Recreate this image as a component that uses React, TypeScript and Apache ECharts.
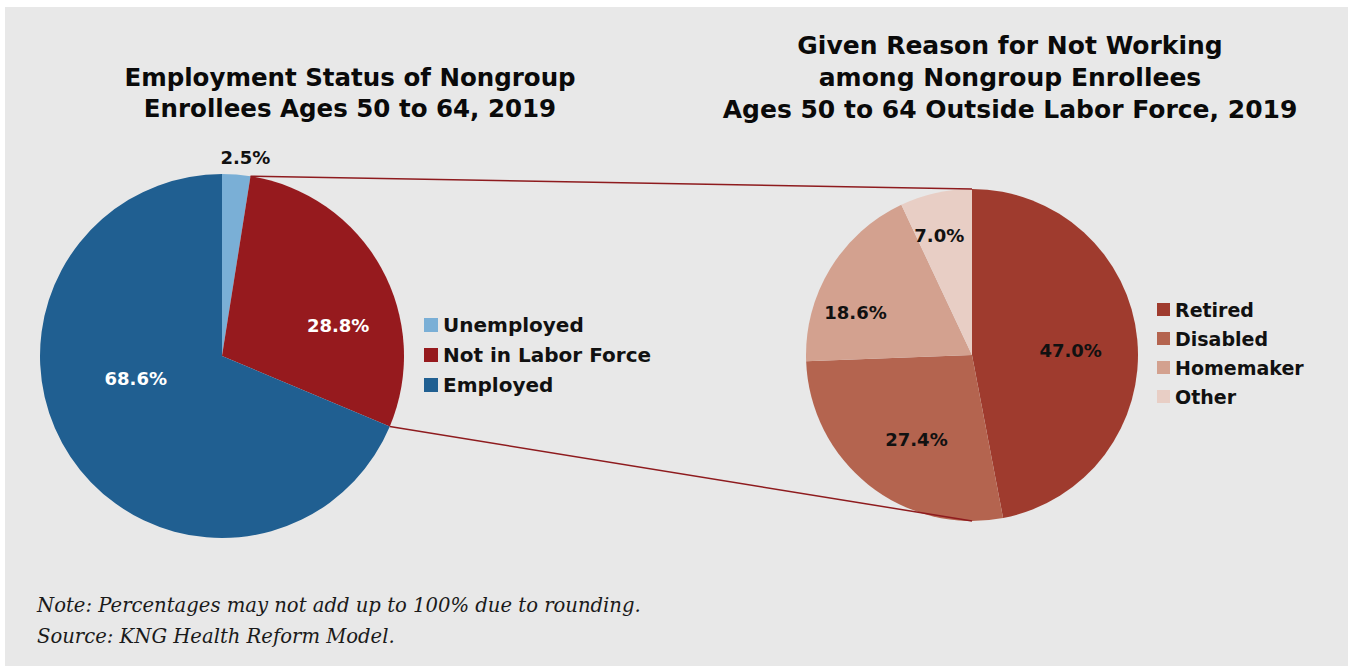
import React, { useEffect, useRef } from "react";
import * as echarts from "echarts";

const statusNames = ["Unemployed", "Not in Labor Force", "Employed"];
const statusValues = [2.5, 28.8, 68.6];
const statusColors = ["#7aafd6", "#961a1e", "#205f91"];

const reasonNames = ["Retired", "Disabled", "Homemaker", "Other"];
const reasonValues = [47.0, 27.4, 18.6, 7.0];
const reasonColors = ["#9f3b2e", "#b4644f", "#d3a18f", "#e8cec5"];

const leftTitle = "Employment Status of Nongroup\nEnrollees Ages 50 to 64, 2019";
const rightTitle =
  "Given Reason for Not Working\namong Nongroup Enrollees\nAges 50 to 64 Outside Labor Force, 2019";
const noteText =
  "Note: Percentages may not add up to 100% due to rounding.\nSource: KNG Health Reform Model.";

// layout
const L = { cx: 222, cy: 356, r: 182 };
const R = { cx: 972, cy: 355, r: 166 };
const leftLabelOffsets = [
  [16, -105],
  [34, 15],
  [-8, -30],
];
const rightLabelOffsets = [
  [13, 4],
  [-2, 17],
  [-43, 2],
  [-14, -36],
];

const SANS = '"DejaVu Sans", sans-serif';

export default function App() {
  const ref = useRef<HTMLDivElement>(null);
  useEffect(() => {
    document.body.style.margin = "0";
    const chart = echarts.init(ref.current!, undefined, { renderer: "svg" });

    const total = statusValues.reduce((a, b) => a + b, 0);
    const f1 = statusValues[0] / total;
    const f2 = (statusValues[0] + statusValues[1]) / total;
    const pt = (f: number) => [
      L.cx + L.r * Math.sin(2 * Math.PI * f),
      L.cy - L.r * Math.cos(2 * Math.PI * f),
    ];
    const p1 = pt(f1);
    const p2 = pt(f2);

    const fmt = (p: any) => Number(p.value).toFixed(1) + "%";

    chart.setOption({
      animation: false,
      backgroundColor: "#ffffff",
      graphic: [
        {
          type: "rect",
          z: -10,
          shape: { x: 5, y: 7, width: 1343, height: 670 },
          style: { fill: "#e8e8e8" },
          silent: true,
        },
        {
          type: "line",
          z: 10,
          shape: { x1: p1[0], y1: p1[1], x2: R.cx, y2: R.cy - R.r },
          style: { stroke: "#8e1b1e", lineWidth: 1.5 },
        },
        {
          type: "line",
          z: 10,
          shape: { x1: p2[0], y1: p2[1], x2: R.cx, y2: R.cy + R.r },
          style: { stroke: "#8e1b1e", lineWidth: 1.5 },
        },
        {
          type: "text",
          x: 350,
          y: 92.5,
          style: {
            text: leftTitle,
            font: "bold 24.5px " + SANS,
            fill: "#0a0a0a",
            textAlign: "center",
            textVerticalAlign: "middle",
            lineHeight: 31,
          },
        },
        {
          type: "text",
          x: 1010,
          y: 77,
          style: {
            text: rightTitle,
            font: "bold 25px " + SANS,
            fill: "#0a0a0a",
            textAlign: "center",
            textVerticalAlign: "middle",
            lineHeight: 32,
          },
        },
        {
          type: "text",
          x: 37,
          y: 620.5,
          style: {
            text: noteText,
            font: 'italic 19.6px "DejaVu Serif", serif',
            fill: "#1a1a1a",
            textAlign: "left",
            textVerticalAlign: "middle",
            lineHeight: 31,
          },
        },
      ],
      legend: [
        {
          data: statusNames,
          orient: "vertical",
          left: 424,
          top: 315,
          icon: "rect",
          itemWidth: 14,
          itemHeight: 14,
          itemGap: 10,
          padding: 0,
          selectedMode: false,
          textStyle: {
            fontFamily: SANS,
            fontWeight: "bold",
            fontSize: 20,
            lineHeight: 20,
            color: "#111",
          },
        },
        {
          data: reasonNames,
          orient: "vertical",
          left: 1157,
          top: 300,
          icon: "rect",
          itemWidth: 13,
          itemHeight: 13,
          itemGap: 10,
          padding: 0,
          selectedMode: false,
          textStyle: {
            fontFamily: SANS,
            fontWeight: "bold",
            fontSize: 19,
            lineHeight: 19,
            color: "#111",
          },
        },
      ],
      series: [
        {
          type: "pie",
          center: [L.cx, L.cy],
          radius: [0, L.r],
          startAngle: 90,
          clockwise: true,
          silent: true,
          emphasis: { disabled: true },
          label: {
            show: true,
            position: "inside",
            formatter: fmt,
            fontFamily: SANS,
            fontWeight: "bold",
            fontSize: 18,
            color: "#ffffff",
          },
          labelLine: { show: false },
          labelLayout: (p: any) => ({
            dx: leftLabelOffsets[p.dataIndex][0],
            dy: leftLabelOffsets[p.dataIndex][1],
          }),
          data: statusNames.map((n, i) => ({
            name: n,
            value: statusValues[i],
            itemStyle: { color: statusColors[i] },
            label: i === 0 ? { color: "#111" } : undefined,
          })),
        },
        {
          type: "pie",
          center: [R.cx, R.cy],
          radius: [0, R.r],
          startAngle: 90,
          clockwise: true,
          silent: true,
          emphasis: { disabled: true },
          label: {
            show: true,
            position: "inside",
            formatter: fmt,
            fontFamily: SANS,
            fontWeight: "bold",
            fontSize: 18,
            color: "#111",
          },
          labelLine: { show: false },
          labelLayout: (p: any) => ({
            dx: rightLabelOffsets[p.dataIndex][0],
            dy: rightLabelOffsets[p.dataIndex][1],
          }),
          data: reasonNames.map((n, i) => ({
            name: n,
            value: reasonValues[i],
            itemStyle: { color: reasonColors[i] },
          })),
        },
      ],
    });
    return () => chart.dispose();
  }, []);
  return <div ref={ref} style={{ width: 1353, height: 666 }} />;
}
